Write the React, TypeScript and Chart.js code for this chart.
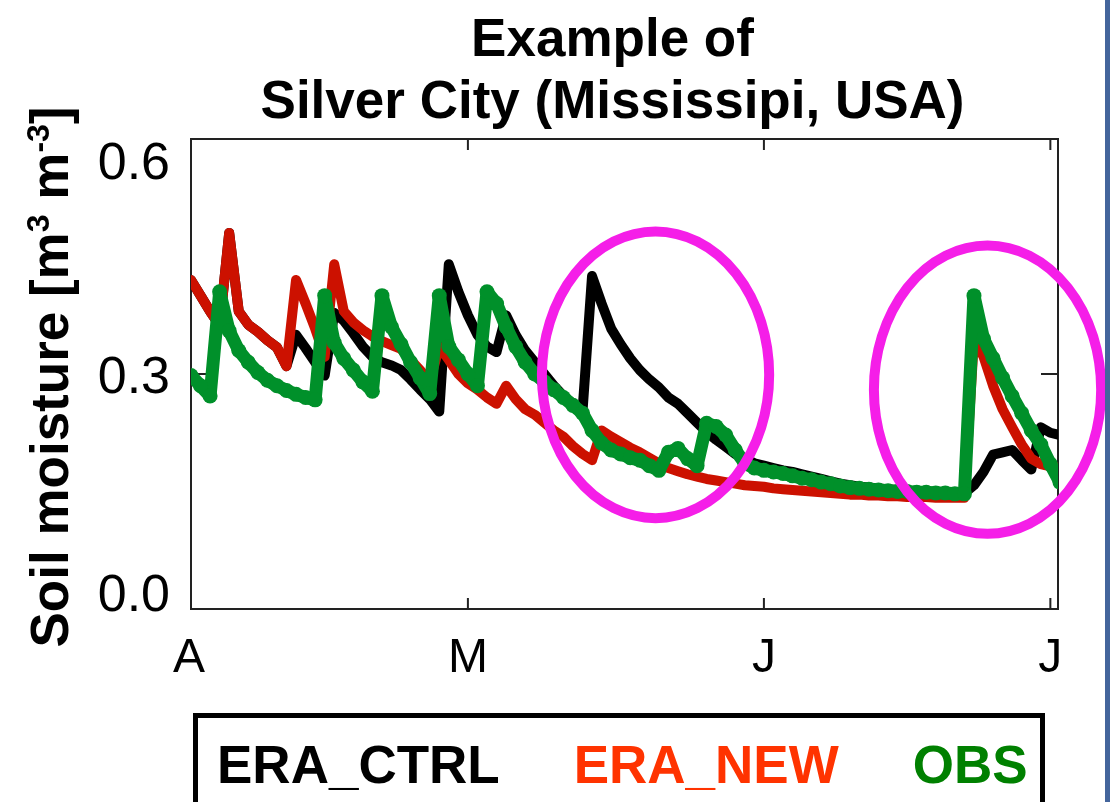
import React, { useEffect, useRef } from "react";
import { Chart, registerables } from "chart.js";

Chart.register(...registerables);

// ---- axis definition (day offset from 1 April) ----
const FIRST_DAY = 1;
const X_MIN = 1;
const X_MAX = 91.8;
const Y_MIN = 0;
const Y_MAX = 0.6;
const X_TICK_DAYS = [0, 30, 61, 91];
const X_TICK_LABELS = ["A", "M", "J", "J"];
const Y_TICK_VALUES = [0, 0.3, 0.6];
const Y_TICK_LABELS = ["0.0", "0.3", "0.6"];

const TITLE_LINES = ["Example of", "Silver City (Mississipi, USA)"];
const SERIES_LABELS = ["ERA_CTRL", "ERA_NEW", "OBS"];
const LINE_COLORS = ["#000000", "#cc1100", "#00902a"];
const LEGEND_TEXT_COLORS = ["#000000", "#ff3300", "#008000"];

// ---- daily soil moisture (m3/m3), day 1 .. day 92 ----
const ERA_CTRL = [
  0.42, 0.40, 0.38, 0.362, 0.48, 0.38, 0.363, 0.354, 0.343, 0.334,
  0.31, 0.35, 0.333, 0.315, 0.298, 0.378, 0.368, 0.352, 0.335, 0.322,
  0.315, 0.311, 0.305, 0.293, 0.28, 0.268, 0.252, 0.44, 0.405, 0.375,
  0.35, 0.335, 0.328, 0.375, 0.35, 0.33, 0.315, 0.30, 0.285, 0.272,
  0.262, 0.252, 0.425, 0.39, 0.358, 0.338, 0.32, 0.305, 0.293, 0.283,
  0.27, 0.262, 0.25, 0.238, 0.226, 0.216, 0.207, 0.198, 0.192, 0.186,
  0.183, 0.18, 0.177, 0.175, 0.172, 0.169, 0.166, 0.163, 0.16, 0.158,
  0.156, 0.155, 0.154, 0.153, 0.152, 0.151, 0.15, 0.15, 0.149, 0.149,
  0.148, 0.148, 0.158, 0.175, 0.197, 0.2, 0.203, 0.19, 0.178, 0.232,
  0.225, 0.222,
];
const ERA_NEW = [
  0.42, 0.40, 0.38, 0.362, 0.48, 0.38, 0.363, 0.354, 0.343, 0.334,
  0.31, 0.42, 0.39, 0.358, 0.322, 0.44, 0.38, 0.366, 0.356, 0.348,
  0.342, 0.337, 0.332, 0.318, 0.305, 0.29, 0.335, 0.318, 0.30, 0.288,
  0.28, 0.27, 0.262, 0.285, 0.268, 0.255, 0.248, 0.238, 0.228, 0.22,
  0.208, 0.198, 0.19, 0.228, 0.22, 0.213, 0.206, 0.2, 0.193, 0.186,
  0.18, 0.176, 0.172, 0.169, 0.166, 0.164, 0.162, 0.16, 0.158, 0.157,
  0.156, 0.154, 0.153, 0.152, 0.151, 0.15, 0.149, 0.148, 0.147, 0.146,
  0.146, 0.145, 0.145, 0.144, 0.144, 0.143, 0.143, 0.143, 0.142, 0.142,
  0.142, 0.142, 0.345, 0.322, 0.285, 0.255, 0.232, 0.21, 0.192, 0.185,
  0.182, 0.18,
];
const OBS = [
  0.298, 0.285, 0.272, 0.405, 0.355, 0.33, 0.315, 0.302, 0.292, 0.285,
  0.279, 0.274, 0.27, 0.267, 0.40, 0.34, 0.32, 0.305, 0.29, 0.278,
  0.40, 0.36, 0.338, 0.315, 0.295, 0.275, 0.40, 0.335, 0.318, 0.30,
  0.285, 0.405, 0.39, 0.36, 0.335, 0.315, 0.30, 0.29, 0.28, 0.27,
  0.26, 0.25, 0.228, 0.212, 0.203, 0.198, 0.193, 0.19, 0.183, 0.177,
  0.20, 0.205, 0.192, 0.183, 0.237, 0.233, 0.222, 0.203, 0.186, 0.18,
  0.177, 0.175, 0.173, 0.17, 0.167, 0.165, 0.162, 0.16, 0.157, 0.155,
  0.154, 0.153, 0.152, 0.151, 0.15, 0.15, 0.149, 0.149, 0.148, 0.148,
  0.147, 0.147, 0.40, 0.345, 0.32, 0.295, 0.272, 0.25, 0.228, 0.21,
  0.185, 0.162,
];

// ---- highlight ellipses, in data units ----
const HIGHLIGHT_CENTER_DAYS = [49.65, 84.42];
const HIGHLIGHT_CENTER_VALUES = [0.299, 0.28];
const HIGHLIGHT_RADIUS_DAYS = [11.9, 11.9];
const HIGHLIGHT_RADIUS_VALUES = [0.183, 0.184];

const FONT = '"Liberation Sans", Arial, Helvetica, sans-serif';

const decorPlugin = {
  id: "decor",
  beforeDatasetsDraw(chart: any) {
    const { ctx, chartArea: a, scales } = chart;
    const xs = scales.x;
    const ys = scales.y;
    ctx.save();
    ctx.strokeStyle = "#222222";
    ctx.lineWidth = 2;
    ctx.strokeRect(a.left, a.top, a.right - a.left, a.bottom - a.top);
    X_TICK_DAYS.forEach((d) => {
      const px = xs.getPixelForValue(d);
      if (px <= a.left + 2 || px >= a.right - 2) return;
      ctx.beginPath();
      ctx.moveTo(px, a.bottom);
      ctx.lineTo(px, a.bottom - 11);
      ctx.moveTo(px, a.top);
      ctx.lineTo(px, a.top + 11);
      ctx.stroke();
    });
    Y_TICK_VALUES.forEach((v) => {
      const py = ys.getPixelForValue(v);
      if (py <= a.top + 2 || py >= a.bottom - 2) return;
      ctx.beginPath();
      ctx.moveTo(a.left, py);
      ctx.lineTo(a.left + 17, py);
      ctx.moveTo(a.right, py);
      ctx.lineTo(a.right - 17, py);
      ctx.stroke();
    });
    ctx.restore();
  },
  afterDatasetsDraw(chart: any) {
    const { ctx, scales } = chart;
    const xs = scales.x;
    const ys = scales.y;
    ctx.save();
    ctx.strokeStyle = "#f51ee8";
    ctx.lineWidth = 10;
    HIGHLIGHT_CENTER_DAYS.forEach((cd, i) => {
      const cx = xs.getPixelForValue(cd);
      const cy = ys.getPixelForValue(HIGHLIGHT_CENTER_VALUES[i]);
      const rx = Math.abs(xs.getPixelForValue(cd + HIGHLIGHT_RADIUS_DAYS[i]) - cx);
      const ry = Math.abs(ys.getPixelForValue(HIGHLIGHT_CENTER_VALUES[i] + HIGHLIGHT_RADIUS_VALUES[i]) - cy);
      ctx.beginPath();
      ctx.ellipse(cx, cy, rx, ry, 0, 0, Math.PI * 2);
      ctx.stroke();
    });
    ctx.restore();
  },
  afterDraw(chart: any) {
    const { ctx, chartArea: a, scales } = chart;
    const xs = scales.x;
    const ys = scales.y;
    ctx.save();
    ctx.fillStyle = "#000";

    // y tick labels
    ctx.font = `52px ${FONT}`;
    ctx.textAlign = "right";
    ctx.textBaseline = "alphabetic";
    Y_TICK_VALUES.forEach((v, i) => {
      let cy = ys.getPixelForValue(v);
      cy = Math.min(Math.max(cy, a.top + 21), a.bottom - 17);
      ctx.fillText(Y_TICK_LABELS[i], a.left - 21, cy + 18.5);
    });

    // x tick labels
    ctx.font = `48px ${FONT}`;
    ctx.textAlign = "center";
    X_TICK_DAYS.forEach((d, i) => {
      let px = xs.getPixelForValue(d);
      px = Math.max(px, a.left - 2);
      ctx.fillText(X_TICK_LABELS[i], px, a.bottom + 63);
    });

    // title
    ctx.font = `bold 53px ${FONT}`;
    ctx.textAlign = "center";
    const tx = (a.left + a.right) / 2 - 12;
    ctx.fillText(TITLE_LINES[0], tx, 56);
    ctx.fillText(TITLE_LINES[1], tx, 118);

    // y axis title with superscripts
    const parts = [
      { t: "Soil moisture [m", s: 53, dy: 0 },
      { t: "3", s: 32, dy: -19 },
      { t: " m", s: 53, dy: 0 },
      { t: "-3", s: 32, dy: -19 },
      { t: "]", s: 53, dy: 0 },
    ];
    let total = 0;
    parts.forEach((p) => {
      ctx.font = `bold ${p.s}px ${FONT}`;
      total += ctx.measureText(p.t).width;
    });
    ctx.translate(68, (a.top + a.bottom) / 2 + 3);
    ctx.rotate(-Math.PI / 2);
    ctx.textAlign = "left";
    let x = -total / 2;
    parts.forEach((p) => {
      ctx.font = `bold ${p.s}px ${FONT}`;
      ctx.fillText(p.t, x, p.dy);
      x += ctx.measureText(p.t).width;
    });
    ctx.setTransform(1, 0, 0, 1, 0, 0);

    // legend box
    const boxLeft = 193;
    const boxRight = 1045;
    const boxTop = 713;
    ctx.strokeStyle = "#000";
    ctx.lineWidth = 5;
    ctx.strokeRect(boxLeft + 2.5, boxTop + 2.5, boxRight - boxLeft - 5, 200);
    ctx.font = `bold 53px ${FONT}`;
    ctx.textAlign = "left";
    let lx = boxLeft + 24;
    SERIES_LABELS.forEach((lab, i) => {
      ctx.fillStyle = LEGEND_TEXT_COLORS[i];
      ctx.fillText(lab, lx, 783);
      lx += ctx.measureText(lab).width + 74;
    });

    // slide border on the right
    ctx.fillStyle = "#44659c";
    ctx.fillRect(1105, 0, 5, 802);
    ctx.restore();
  },
};

export default function App() {
  const ref = useRef<HTMLCanvasElement>(null);
  useEffect(() => {
    document.body.style.margin = "0";
    const canvas = ref.current;
    if (!canvas) return;
    const toPoints = (arr: number[]) => arr.map((v, i) => ({ x: FIRST_DAY + i, y: v }));
    const chart = new Chart(canvas, {
      type: "line",
      data: {
        datasets: [
          {
            label: SERIES_LABELS[0],
            data: toPoints(ERA_CTRL),
            borderColor: LINE_COLORS[0],
            backgroundColor: LINE_COLORS[0],
            borderWidth: 10,
            pointRadius: 0,
            tension: 0,
            borderJoinStyle: "round",
            borderCapStyle: "round",
            order: 2,
          },
          {
            label: SERIES_LABELS[1],
            data: toPoints(ERA_NEW),
            borderColor: LINE_COLORS[1],
            backgroundColor: LINE_COLORS[1],
            borderWidth: 10,
            pointRadius: 0,
            tension: 0,
            borderJoinStyle: "round",
            borderCapStyle: "round",
            order: 1,
          },
          {
            label: SERIES_LABELS[2],
            data: toPoints(OBS),
            borderColor: LINE_COLORS[2],
            backgroundColor: LINE_COLORS[2],
            borderWidth: 13,
            pointRadius: 7.5,
            pointBorderWidth: 0,
            tension: 0,
            borderJoinStyle: "round",
            borderCapStyle: "round",
            order: 0,
          },
        ] as any,
      },
      options: {
        responsive: false,
        maintainAspectRatio: false,
        devicePixelRatio: 1,
        animation: false,
        layout: { padding: { left: 191, top: 139, right: 54, bottom: 193 } },
        scales: {
          x: { type: "linear", min: X_MIN, max: X_MAX, display: false },
          y: { type: "linear", min: Y_MIN, max: Y_MAX, display: false },
        },
        plugins: {
          legend: { display: false },
          tooltip: { enabled: false },
          title: { display: false },
        },
      } as any,
      plugins: [decorPlugin],
    });
    return () => chart.destroy();
  }, []);
  return (
    <div style={{ width: 1112, height: 802, background: "#fff" }}>
      <canvas ref={ref} width={1112} height={802} style={{ display: "block", width: 1112, height: 802 }} />
    </div>
  );
}
